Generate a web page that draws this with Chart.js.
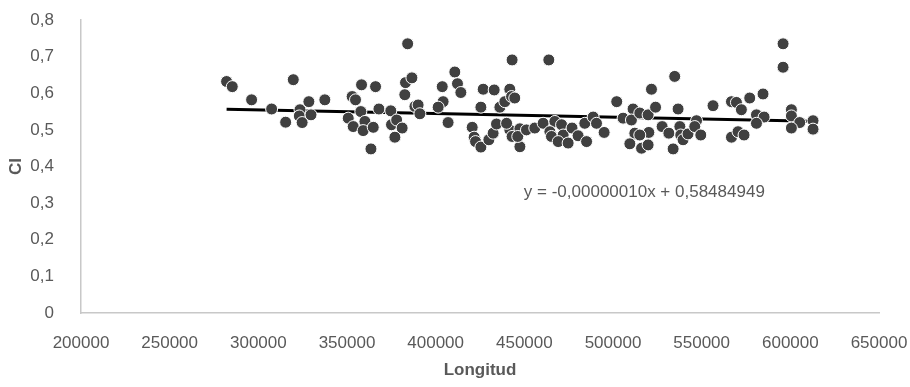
<!DOCTYPE html>
<html>
<head>
<meta charset="utf-8">
<script src="https://cdn.jsdelivr.net/npm/chart.js@4"></script>
<style>
  html, body { margin: 0; padding: 0; background: #fff; }
  #wrap { width: 910px; height: 387px; }
</style>
</head>
<body>
<div id="wrap"><canvas id="chart"></canvas></div>
<script>
const longitud = [
  282100, 285300, 296200, 319700, 307500, 315400, 323500, 328500, 323100, 324700,
  329700, 337500, 384200, 358200, 366100, 383000, 386600, 382600, 352900, 354800,
  357800, 368000, 374700, 350700, 353500, 360100, 359100, 364800, 375100, 378000,
  381100, 377000, 363500, 388300, 410800, 412300, 414200, 403700, 404200, 401400,
  390100, 391100, 407000, 426800, 433000, 441800, 443100, 425500, 436200, 439000,
  442800, 420600, 421700, 422500, 425500, 430000, 432400, 434300, 441800, 443100,
  440000, 463800, 444600, 447500, 447500, 446300, 451200, 455900, 460600, 467200,
  464400, 465300, 471000, 471900, 469100, 474700, 476900, 480300, 484100, 485100,
  488800, 490700, 495000, 502100, 505700, 511300, 510400, 515100, 519800, 521700,
  534800, 524000, 512300, 509500, 516100, 519800, 520200, 515100, 527700, 531500,
  533900, 536700, 537700, 538200, 539500, 542300, 547100, 546100, 549500, 556400,
  566800, 569600, 572400, 577100, 584600, 580900, 585200, 580900, 566800, 570500,
  573900, 595900, 595900, 600600, 600600, 605300, 600600, 612800, 612800
];
const ci = [
  0.632, 0.618, 0.582, 0.637, 0.557, 0.521, 0.555, 0.577, 0.538, 0.520,
  0.541, 0.582, 0.735, 0.623, 0.618, 0.629, 0.642, 0.596, 0.591, 0.582,
  0.550, 0.557, 0.552, 0.532, 0.509, 0.523, 0.498, 0.507, 0.514, 0.527,
  0.505, 0.480, 0.448, 0.564, 0.658, 0.626, 0.602, 0.618, 0.577, 0.562,
  0.568, 0.544, 0.520, 0.611, 0.609, 0.611, 0.691, 0.562, 0.562, 0.577,
  0.591, 0.507, 0.480, 0.468, 0.453, 0.473, 0.491, 0.516, 0.500, 0.482,
  0.518, 0.691, 0.587, 0.503, 0.454, 0.482, 0.500, 0.505, 0.518, 0.523,
  0.495, 0.482, 0.514, 0.486, 0.468, 0.464, 0.505, 0.484, 0.518, 0.468,
  0.535, 0.518, 0.493, 0.577, 0.532, 0.557, 0.527, 0.546, 0.541, 0.611,
  0.646, 0.562, 0.491, 0.462, 0.450, 0.459, 0.493, 0.486, 0.509, 0.491,
  0.448, 0.557, 0.509, 0.486, 0.473, 0.489, 0.525, 0.509, 0.486, 0.566,
  0.577, 0.575, 0.555, 0.587, 0.598, 0.541, 0.535, 0.518, 0.480, 0.495,
  0.486, 0.735, 0.671, 0.555, 0.538, 0.520, 0.505, 0.525, 0.502
];

// linear trend from the chart's equation
const slope = -0.00000010;
const intercept = 0.58484949;
const equationText = 'y = -0,00000010x + 0,58484949';
const equationPos = { x: 449700, y: 0.33 };

const xMin = Math.min(...longitud);
const xMax = Math.max(...longitud);
const trend = [
  { x: xMin, y: slope * xMin + intercept },
  { x: xMax, y: slope * xMax + intercept }
];

const points = longitud.map((x, i) => ({ x: x, y: ci[i] }));

const fontFamily = '"Liberation Sans", Arial, sans-serif';
const textColor = '#595959';

const equationLabel = {
  id: 'equationLabel',
  afterDatasetsDraw(chart) {
    const ctx = chart.ctx;
    const px = chart.scales.x.getPixelForValue(equationPos.x);
    const py = chart.scales.y.getPixelForValue(equationPos.y);
    ctx.save();
    ctx.font = '17px ' + fontFamily;
    ctx.fillStyle = textColor;
    ctx.textAlign = 'left';
    ctx.textBaseline = 'middle';
    ctx.fillText(equationText, px, py);
    ctx.restore();
  }
};

new Chart(document.getElementById('chart'), {
  type: 'scatter',
  data: {
    datasets: [
      {
        label: 'CI',
        data: points,
        backgroundColor: '#404040',
        borderColor: '#ffffff',
        borderWidth: 1,
        pointRadius: 6,
        pointHoverRadius: 6
      },
      {
        type: 'line',
        label: 'Tendencia',
        data: trend,
        borderColor: '#000000',
        borderWidth: 3,
        pointRadius: 0,
        fill: false
      }
    ]
  },
  options: {
    responsive: true,
    maintainAspectRatio: false,
    animation: false,
    layout: { padding: 0 },
    plugins: {
      legend: { display: false },
      tooltip: { enabled: false }
    },
    scales: {
      x: {
        type: 'linear',
        min: 200000,
        max: 650000,
        grid: { display: false },
        border: { display: true, color: '#c8c8c8', width: 1.5 },
        ticks: {
          stepSize: 50000,
          padding: 12,
          color: textColor,
          font: { family: fontFamily, size: 17 },
          maxRotation: 0,
          callback: v => String(v)
        },
        title: {
          display: true,
          text: 'Longitud',
          color: textColor,
          font: { family: fontFamily, size: 17, weight: 'bold' },
          padding: { top: 4, bottom: 6 }
        },
        afterFit: s => {
          s.height = 74;
          s.paddingLeft = 0;
          s.paddingRight = 31;
        }
      },
      y: {
        min: 0,
        max: 0.8,
        grid: { display: false },
        border: { display: true, color: '#c8c8c8', width: 1.5 },
        ticks: {
          stepSize: 0.1,
          padding: 19,
          color: textColor,
          font: { family: fontFamily, size: 17 },
          callback: v => (Math.round(v * 10) / 10).toString().replace('.', ',')
        },
        title: {
          display: true,
          text: 'CI',
          color: textColor,
          font: { family: fontFamily, size: 17, weight: 'bold' },
          padding: { top: 6, bottom: 4 }
        },
        afterFit: s => {
          s.width = 81;
          s.paddingTop = 20;
          s.paddingBottom = 0;
        }
      }
    }
  },
  plugins: [equationLabel]
});
</script>
</body>
</html>
